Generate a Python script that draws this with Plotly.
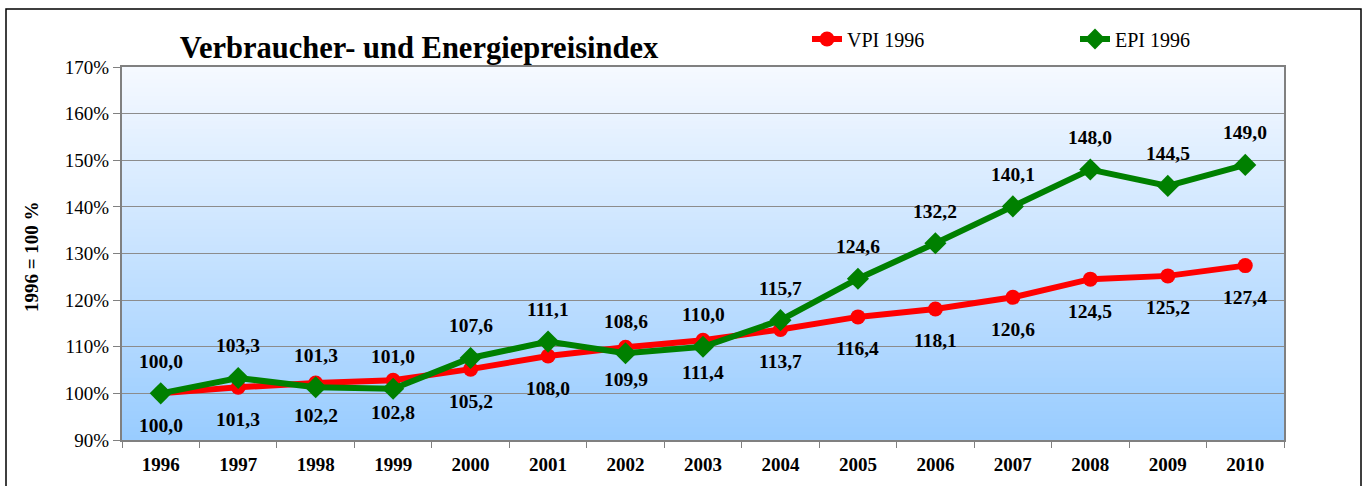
import plotly.graph_objects as go

years = ["1996", "1997", "1998", "1999", "2000", "2001", "2002", "2003",
         "2004", "2005", "2006", "2007", "2008", "2009", "2010"]
vpi = [100.0, 101.3, 102.2, 102.8, 105.2, 108.0, 109.9, 111.4, 113.7,
       116.4, 118.1, 120.6, 124.5, 125.2, 127.4]
epi = [100.0, 103.3, 101.3, 101.0, 107.6, 111.1, 108.6, 110.0, 115.7,
       124.6, 132.2, 140.1, 148.0, 144.5, 149.0]
y_ticks = [90, 100, 110, 120, 130, 140, 150, 160, 170]

FONT = "Liberation Serif"
W, H = 1362, 486
L, R, T, B = 122, 78, 67, 46
pw, ph = W - L - R, H - T - B

def fmt(v):
    return f"{v:.1f}".replace(".", ",")

fig = go.Figure()
fig.add_trace(go.Scatter(
    x=years, y=vpi, name="VPI 1996", mode="lines+markers",
    line=dict(color="#FF0000", width=6),
    marker=dict(symbol="circle", size=15, color="#FF0000"),
))
fig.add_trace(go.Scatter(
    x=years, y=epi, name="EPI 1996", mode="lines+markers",
    line=dict(color="#008000", width=6),
    marker=dict(symbol="diamond", size=17, color="#008000"),
))

annotations = []
for i, v in enumerate(epi):
    annotations.append(dict(x=i, y=v, xref="x", yref="y", text="<b>" + fmt(v) + "</b>",
                            showarrow=False, yshift=32,
                            font=dict(family=FONT, size=19.5, color="black")))
for i, v in enumerate(vpi):
    annotations.append(dict(x=i, y=v, xref="x", yref="y", text="<b>" + fmt(v) + "</b>",
                            showarrow=False, yshift=-32,
                            font=dict(family=FONT, size=19.5, color="black")))
annotations.append(dict(
    xref="paper", yref="paper", x=(31 - L) / pw, y=(H - B - 257) / ph,
    text="<b>1996 = 100 %</b>", textangle=-90, showarrow=False,
    font=dict(family=FONT, size=19, color="black"), xanchor="center", yanchor="middle"))

# gradient background bands
shapes = []
n = 90
top = (245, 249, 255)
bot = (153, 204, 255)
for i in range(n):
    f = i / (n - 1)
    c = tuple(round(bot[k] + (top[k] - bot[k]) * f) for k in range(3))
    shapes.append(dict(type="rect", xref="paper", yref="paper",
                       x0=0, x1=1, y0=i / n, y1=min(1, (i + 1) / n + 0.002),
                       fillcolor="rgb(%d,%d,%d)" % c, line=dict(width=0), layer="below"))
# outer border
shapes.append(dict(type="rect", xref="paper", yref="paper",
                   x0=(6 - L) / pw, x1=(1361 - L) / pw,
                   y0=(H - B - 495) / ph, y1=(H - B - 9) / ph,
                   line=dict(color="black", width=1.5), fillcolor="rgba(0,0,0,0)",
                   layer="above"))

fig.update_layout(
    width=W, height=H,
    margin=dict(l=L, r=R, t=T, b=B, autoexpand=False),
    paper_bgcolor="white", plot_bgcolor="rgba(0,0,0,0)",
    title=dict(text="<b>Verbraucher- und Energiepreisindex</b>",
               x=419 / W, y=1 - 47 / H, xanchor="center", yanchor="middle",
               font=dict(family=FONT, size=30.5, color="black")),
    legend=dict(orientation="h", xref="container", yref="container",
                x=807 / W, y=1 - 39 / H,
                xanchor="left", yanchor="middle",
                entrywidth=223, entrywidthmode="pixels",
                font=dict(family=FONT, size=20, color="black"),
                bgcolor="rgba(0,0,0,0)"),
    showlegend=True,
    annotations=annotations,
    shapes=shapes,
)
fig.update_xaxes(type="category", categoryorder="array", categoryarray=years,
                 range=[-0.5, len(years) - 0.5],
                 tickson="boundaries", ticks="outside", ticklen=6,
                 tickcolor="#808080", showgrid=False, showline=True, linecolor="#808080",
                 linewidth=2, mirror=True, tickangle=0, automargin=False,
                 ticklabelstandoff=6,
                 tickfont=dict(family=FONT, size=19, color="black"),
                 tickvals=years, ticktext=["<b>" + y + "</b>" for y in years])
fig.update_yaxes(range=[90, 170], tickvals=y_ticks, ticktext=[f"{t}%" for t in y_ticks],
                 ticks="outside", ticklen=7, tickcolor="#808080", automargin=False,
                 showgrid=True, gridcolor="#8C8C8C", gridwidth=1,
                 showline=True, linecolor="#808080", linewidth=2, mirror=True,
                 zeroline=False,
                 tickfont=dict(family=FONT, size=19, color="black"))

fig.write_html("out.html", config={"displayModeBar": False},
               post_script="document.body.style.margin='0';document.body.style.overflow='hidden';")
